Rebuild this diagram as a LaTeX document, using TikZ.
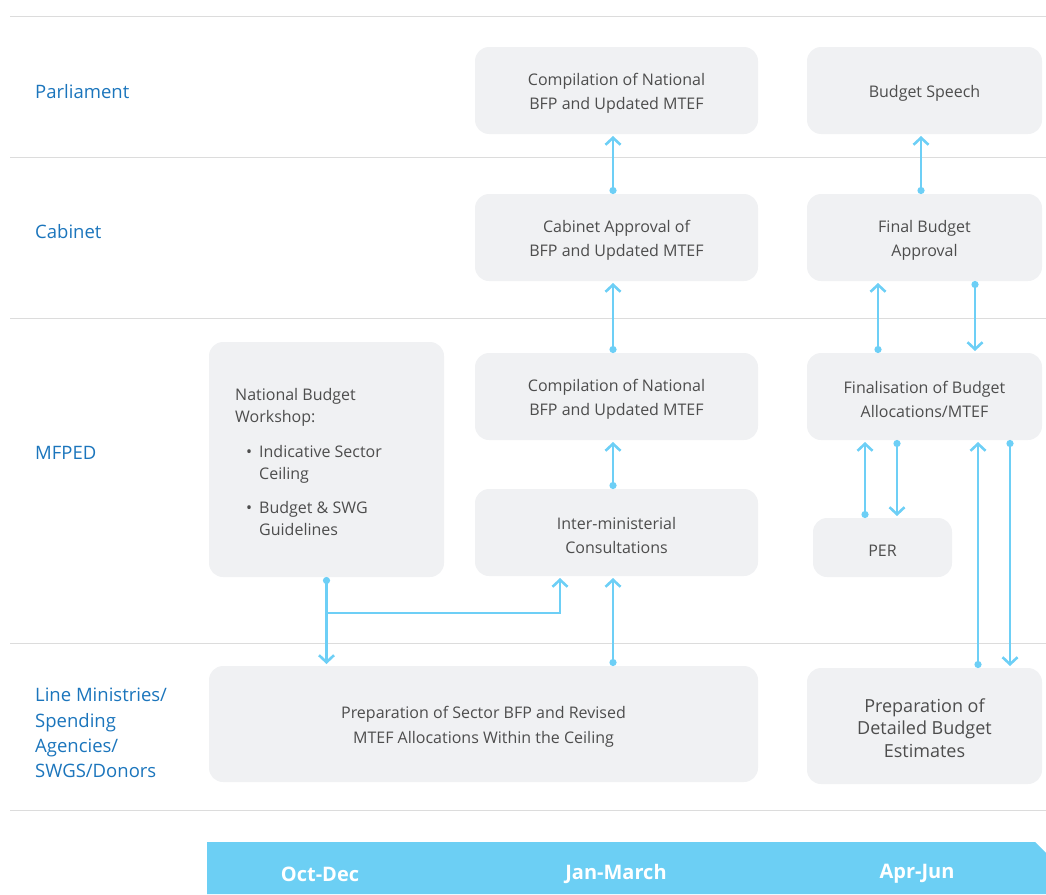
\documentclass[tikz,border=0pt]{standalone}
\usepackage{fontspec}
\setmainfont{Open Sans}
\usetikzlibrary{arrows.meta,calc}
\definecolor{boxfill}{HTML}{F0F1F3}
\definecolor{arrowc}{HTML}{6DCFF6}
\definecolor{labelc}{HTML}{1B75BC}
\definecolor{textc}{HTML}{4D4D4D}
\definecolor{linec}{HTML}{DCDCDC}
\definecolor{barc}{HTML}{6CCFF4}
\newcommand{\tstrut}{\rule{0pt}{18pt}}
\begin{document}
\begin{tikzpicture}[x=1pt,y=-1pt,
 box/.style={fill=boxfill, rounded corners=14pt, text=textc, font=\fontsize{16}{24.5}\selectfont, align=center, inner sep=0pt, outer sep=0pt},
 wtext/.style={text=textc, font=\fontsize{16}{22}\selectfont, inner sep=0pt, anchor=base west},
 lab/.style={text=labelc, anchor=west, font=\fontsize{18.5}{25.3}\selectfont, align=left, inner sep=0pt},
 arr/.style={draw=arrowc, line width=2.6pt, shorten >=2pt, {Circle[length=7pt,width=7pt]}-{Straight Barb[length=7pt,width=15pt]}},
 arrnodot/.style={draw=arrowc, line width=2.6pt, shorten >=2pt, -{Straight Barb[length=7pt,width=15pt]}},
 sep/.style={draw=linec, line width=1pt},
 bartext/.style={text=white, font=\fontsize{20}{24}\selectfont\bfseries, inner sep=0pt}]
\useasboundingbox (0,0) rectangle (1046,894);

% separators
\foreach \yy in {16,157,318,643,810} \draw[sep] (10,\yy) -- (1046,\yy);

% row labels
\node[lab] (lp) at (35,92) {Parliament};
\node[lab] (lc) at (35,232) {Cabinet};
\node[lab] (lm) at (35,453) {MFPED};
\node[lab] (ll) at (35,733) {Line Ministries/\\Spending\\Agencies/\\SWGS/Donors};

% boxes
\node[box, minimum width=283, minimum height=87] (P1) at (616.5,90.5) {\tstrut Compilation of National\\BFP and Updated MTEF};
\node[box, minimum width=235, minimum height=87] (P2) at (924.5,90.5) {\tstrut Budget Speech};
\node[box, minimum width=283, minimum height=87] (C1) at (616.5,237.5) {\tstrut Cabinet Approval of\\BFP and Updated MTEF};
\node[box, minimum width=235, minimum height=87] (C2) at (924.5,237.5) {\tstrut Final Budget\\Approval};
\node[box, minimum width=235, minimum height=235] (M0) at (326.5,459.5) {};
\node[box, minimum width=283, minimum height=87] (M1) at (616.5,396.5) {\tstrut Compilation of National\\BFP and Updated MTEF};
\node[box, minimum width=283, minimum height=87] (M2) at (616.5,532.5) {\tstrut Inter-ministerial\\Consultations};
\node[box, minimum width=235, minimum height=87] (M3) at (924.5,396.5) {\tstrut Finalisation of Budget\\Allocations/MTEF};
\node[box, minimum width=139, minimum height=59] (PER) at (882.5,547.5) {\tstrut PER};
\node[box, minimum width=549, minimum height=116] (L1) at (483.5,724) {\tstrut Preparation of Sector BFP and Revised\\MTEF Allocations Within the Ceiling};
\node[box, minimum width=235, minimum height=116, font=\fontsize{18}{22.5}\selectfont] (L2) at (924.5,726) {\tstrut Preparation of\\Detailed Budget\\Estimates};

% workshop text
\node[wtext] (wh1) at (235,400) {National Budget};
\node[wtext] (wh2) at (235,422) {Workshop:};
\node[wtext] (wb1) at (259,457) {\llap{\textbullet\hspace{7pt}}Indicative Sector};
\node[wtext] (wb1b) at (259,479) {Ceiling};
\node[wtext] (wb2) at (259,513) {\llap{\textbullet\hspace{7pt}}Budget \& SWG};
\node[wtext] (wb2b) at (259,535) {Guidelines};

% arrows middle column
\draw[arr] ([xshift=-3.5pt]C1.north) -- ([xshift=-3.5pt]P1.south);
\draw[arr] ([xshift=-3.5pt]M1.north) -- ([xshift=-3.5pt]C1.south);
\draw[arr] ([xshift=-3.5pt]M2.north) -- ([xshift=-3.5pt]M1.south);
\draw[arr] ([xshift=-3.5pt]M2.south |- L1.north) -- ([xshift=-3.5pt]M2.south);
% workshop arrows
\draw[arr] (M0.south) -- (M0.south |- L1.north);
\coordinate (br) at ($(M0.south)+(0,36)$);
\draw[arrnodot] (br) -| ([xshift=-56.5pt]M2.south);

% right column
\draw[arr] ([xshift=-3.5pt]C2.north) -- ([xshift=-3.5pt]P2.south);
\draw[arr] ([xshift=-46.5pt]M3.north) -- ([xshift=-46.5pt]C2.south);
\draw[arr] ([xshift=50.5pt]C2.south) -- ([xshift=50.5pt]M3.north);
\draw[arr] ([xshift=-17.5pt]PER.north) -- ([xshift=-17.5pt]PER.north |- M3.south);
\draw[arr] ([xshift=14.5pt]PER.north |- M3.south) -- ([xshift=14.5pt]PER.north);
\draw[arr] ([xshift=53.5pt]L2.north) -- ([xshift=53.5pt]M3.south);
\draw[arr] ([xshift=85.5pt]M3.south) -- ([xshift=85.5pt]L2.north);

% bottom bar
\fill[barc] (207,842) -- (1035,842) -- (1046,853) -- (1046,894) -- (207,894) -- cycle;
\node[bartext] (b1) at (320,874) {Oct-Dec};
\node[bartext] (b2) at (616,874) {Jan-March};
\node[bartext] (b3) at (917,874) {Apr-Jun};
\end{tikzpicture}
\end{document}
